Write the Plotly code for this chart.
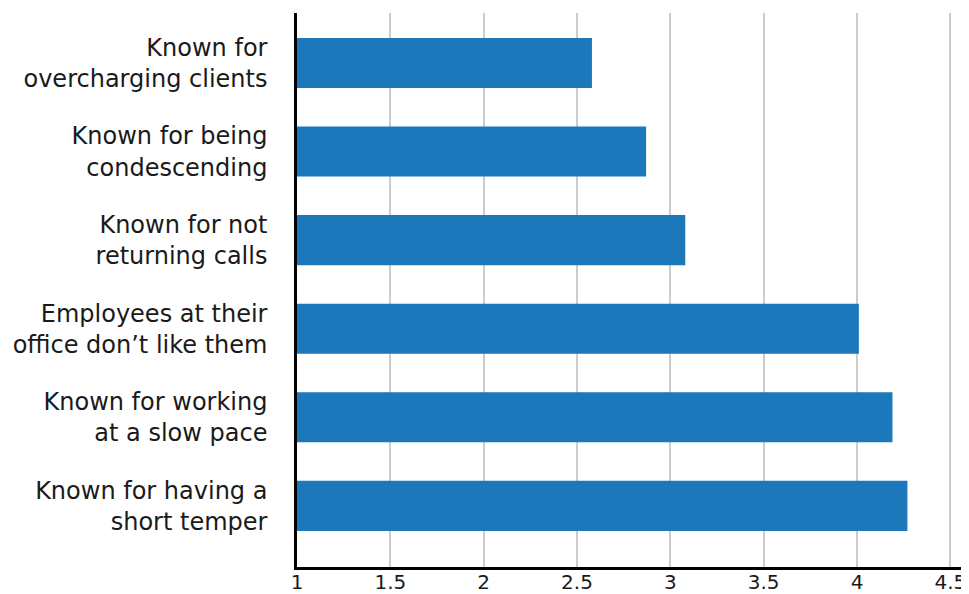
import plotly.graph_objects as go

categories = [
    "Known for<br>overcharging clients",
    "Known for being<br>condescending",
    "Known for not<br>returning calls",
    "Employees at their<br>office don’t like them",
    "Known for working<br>at a slow pace",
    "Known for having a<br>short temper",
]
values = [2.58, 2.87, 3.08, 4.01, 4.19, 4.27]
x_ticks = [1, 1.5, 2, 2.5, 3, 3.5, 4, 4.5]

# page body has an 8px margin, so the figure is sized/offset to compensate
fig = go.Figure(go.Bar(
    y=categories, x=values, orientation="h",
    marker=dict(color="#1C77BB", line=dict(width=0)),
))

fig.update_layout(
    template="none",
    width=961, height=586,
    margin=dict(l=289, r=0, t=5, b=27, autoexpand=False),
    paper_bgcolor="white", plot_bgcolor="white",
    bargap=0.435,
    showlegend=False,
    font=dict(family="DejaVu Sans", size=24, color="#1a1a1a"),
)
fig.update_xaxes(
    range=[1, 4.6], tickvals=x_ticks, ticktext=[str(t) for t in x_ticks],
    showgrid=True, gridcolor="#cccccc", gridwidth=1.5,
    showline=True, linecolor="black", linewidth=2.5,
    zeroline=False, ticks="", automargin=False, ticklabelstandoff=-5,
    tickfont=dict(size=20),
)
fig.update_yaxes(
    range=[5.69, -0.564], showgrid=False,
    showline=True, linecolor="black", linewidth=2.5,
    zeroline=False, ticks="", ticklabelstandoff=22, automargin=False,
    tickfont=dict(size=24),
)

fig.write_html("out.html")
